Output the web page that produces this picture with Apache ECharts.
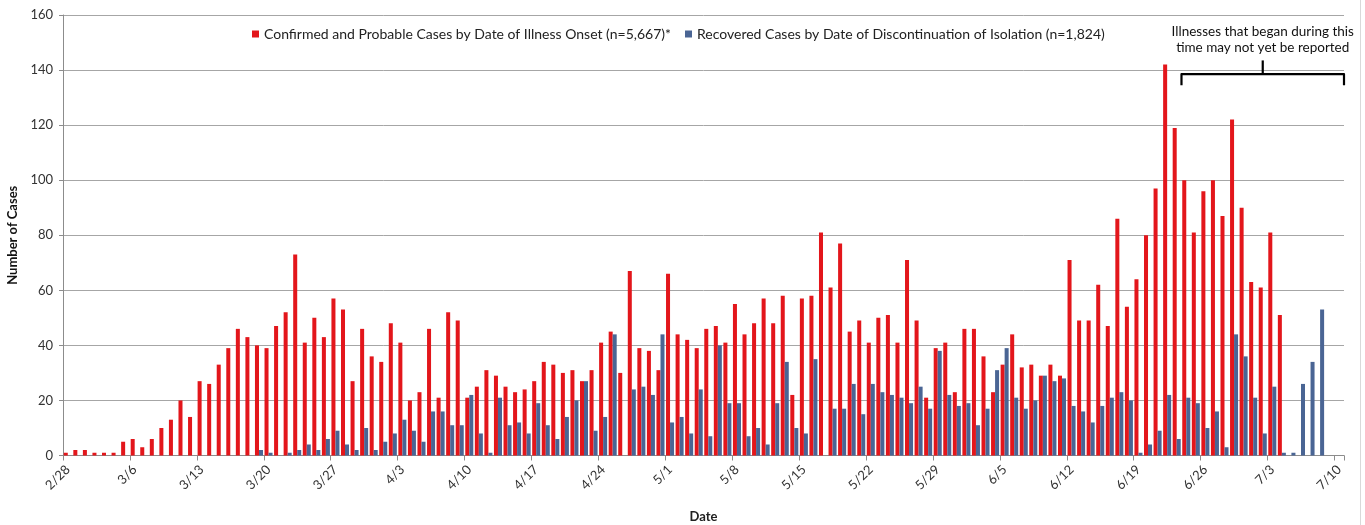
<!DOCTYPE html>
<html>
<head>
<meta charset="utf-8">
<script src="https://cdn.jsdelivr.net/npm/echarts@6/dist/echarts.min.js"></script>
<style>
html,body{margin:0;padding:0;background:#fff;}
#chart{width:1365px;height:525px;}
</style>
</head>
<body>
<div id="chart"></div>
<script>
// Dates 2/28 .. 7/10 (2020)
const dates = [
 '2/28','2/29',
 '3/1','3/2','3/3','3/4','3/5','3/6','3/7','3/8','3/9','3/10','3/11','3/12','3/13','3/14','3/15','3/16','3/17','3/18','3/19','3/20','3/21','3/22','3/23','3/24','3/25','3/26','3/27','3/28','3/29','3/30','3/31',
 '4/1','4/2','4/3','4/4','4/5','4/6','4/7','4/8','4/9','4/10','4/11','4/12','4/13','4/14','4/15','4/16','4/17','4/18','4/19','4/20','4/21','4/22','4/23','4/24','4/25','4/26','4/27','4/28','4/29','4/30',
 '5/1','5/2','5/3','5/4','5/5','5/6','5/7','5/8','5/9','5/10','5/11','5/12','5/13','5/14','5/15','5/16','5/17','5/18','5/19','5/20','5/21','5/22','5/23','5/24','5/25','5/26','5/27','5/28','5/29','5/30','5/31',
 '6/1','6/2','6/3','6/4','6/5','6/6','6/7','6/8','6/9','6/10','6/11','6/12','6/13','6/14','6/15','6/16','6/17','6/18','6/19','6/20','6/21','6/22','6/23','6/24','6/25','6/26','6/27','6/28','6/29','6/30',
 '7/1','7/2','7/3','7/4','7/5','7/6','7/7','7/8','7/9','7/10'
];

const confirmedCases = [
 1,2,
 2,1,1,1,5,6,3,6,10,13,20,14,27,26,33,39,46,43,40,39,47,52,73,41,50,43,57,53,27,46,36,
 34,48,41,20,23,46,21,52,49,21,25,31,29,25,23,24,27,34,33,30,31,27,31,41,45,30,67,39,38,31,
 66,44,42,39,46,47,41,55,44,48,57,48,58,22,57,58,81,61,77,45,49,41,50,51,41,71,49,21,39,41,23,
 46,46,36,23,33,44,32,33,29,33,29,71,49,49,62,47,86,54,64,80,97,142,119,100,81,96,100,87,122,90,
 63,61,81,51,0,0,0,0,0,0
];

const recoveredCases = [
 0,0,
 0,0,0,0,0,0,0,0,0,0,0,0,0,0,0,0,0,0,2,1,0,1,2,4,2,6,9,4,2,10,2,
 5,8,13,9,5,16,16,11,11,22,8,1,21,11,12,8,19,11,6,14,20,27,9,14,44,0,24,25,22,44,
 12,14,8,24,7,40,19,19,7,10,4,19,34,10,8,35,0,17,17,26,15,26,23,22,21,19,25,17,38,22,18,
 19,11,17,31,39,21,17,20,29,27,28,18,16,12,18,21,23,20,1,4,9,22,6,21,19,10,16,3,44,36,
 21,8,25,1,1,26,34,53,0,0
];

const yTicks = { min: 0, max: 160, interval: 20 };
const seriesNames = [
 'Confirmed and Probable Cases by Date of Illness Onset (n=5,667)*',
 'Recovered Cases by Date of Discontinuation of Isolation (n=1,824)'
];
const noteLines = ['Illnesses that began during this', 'time may not yet be reported'];
const noteStart = '6/24';

const FONT = 'Lato, "Open Sans", sans-serif';
const chart = echarts.init(document.getElementById('chart'), null, {renderer: 'canvas'});

const option = {
  animation: false,
  backgroundColor: '#ffffff',
  textStyle: {fontFamily: FONT},
  grid: {left: 63, right: 21, top: 15, bottom: 69.5, containLabel: false, outerBoundsMode: 'none'},
  legend: {
    top: 22, left: 247, itemGap: 14, itemWidth: 7, itemHeight: 7,
    icon: 'rect',
    textStyle: {fontFamily: FONT, fontSize: 14, color: '#222'},
    data: seriesNames
  },
  xAxis: {
    type: 'category',
    data: dates,
    boundaryGap: true,
    name: 'Date',
    nameLocation: 'middle',
    nameGap: 55,
    nameTextStyle: {fontFamily: FONT, fontWeight: 'bold', fontSize: 13, color: '#222'},
    axisLine: {lineStyle: {color: '#8c8c8c', width: 1}},
    axisTick: {show: true, interval: 6, length: 5, lineStyle: {color: '#8c8c8c'}},
    axisLabel: {interval: 6, rotate: 45, fontFamily: FONT, fontSize: 13, color: '#333', margin: 12},
    splitLine: {show: false}
  },
  yAxis: {
    type: 'value',
    min: yTicks.min, max: yTicks.max, interval: yTicks.interval,
    name: 'Number of Cases',
    nameLocation: 'middle',
    nameGap: 44,
    nameTextStyle: {fontFamily: FONT, fontWeight: 'bold', fontSize: 13, color: '#111'},
    axisLine: {show: true, lineStyle: {color: '#8c8c8c', width: 1}},
    axisTick: {show: true, length: 4, lineStyle: {color: '#8c8c8c'}},
    axisLabel: {fontFamily: FONT, fontSize: 13, color: '#333', margin: 10},
    splitLine: {show: true, lineStyle: {color: '#a6a6a6', width: 1}}
  },
  series: [
    {
      name: seriesNames[0], type: 'bar', data: confirmedCases,
      barGap: '0%', barCategoryGap: '16%',
      itemStyle: {color: '#e3161b'}
    },
    {
      name: seriesNames[1], type: 'bar', data: recoveredCases,
      barGap: '0%', barCategoryGap: '16%',
      itemStyle: {color: '#4a6594'}
    }
  ]
};
chart.setOption(option);

// Annotation brace spanning from noteStart to axis end
const startIdx = dates.indexOf(noteStart);
const c0 = chart.convertToPixel({xAxisIndex: 0}, dates[0]);
const c1 = chart.convertToPixel({xAxisIndex: 0}, dates[1]);
const band = c1 - c0;
const xL = chart.convertToPixel({xAxisIndex: 0}, dates[startIdx]) - band / 2;
const xR = chart.convertToPixel({xAxisIndex: 0}, dates[dates.length - 1]) + band / 2;
const xM = (xL + xR) / 2;
const yBar = chart.convertToPixel({yAxisIndex: 0}, 138.5);
const yEnd = chart.convertToPixel({yAxisIndex: 0}, 134.5);
const yTop = chart.convertToPixel({yAxisIndex: 0}, 143.5);

chart.setOption({
  graphic: [
    {
      type: 'polyline', silent: true,
      shape: {points: [[xL, yEnd], [xL, yBar], [xR, yBar], [xR, yEnd]]},
      style: {stroke: '#000', lineWidth: 2.2, fill: null, lineJoin: 'round'}
    },
    {
      type: 'line', silent: true,
      shape: {x1: xM, y1: yBar, x2: xM, y2: yTop},
      style: {stroke: '#000', lineWidth: 2.2}
    },
    {
      type: 'text', silent: true, x: xM, y: 32,
      style: {text: noteLines[0], fontFamily: FONT, fontSize: 13.5, fill: '#111', align: 'center', verticalAlign: 'middle'}
    },
    {
      type: 'text', silent: true, x: xM, y: 48,
      style: {text: noteLines[1], fontFamily: FONT, fontSize: 13.5, fill: '#111', align: 'center', verticalAlign: 'middle'}
    },
    {
      type: 'line', silent: true,
      shape: {x1: 1360.5, y1: 0, x2: 1360.5, y2: 525},
      style: {stroke: '#d9d9d9', lineWidth: 1}
    }
  ]
});
</script>
</body>
</html>
